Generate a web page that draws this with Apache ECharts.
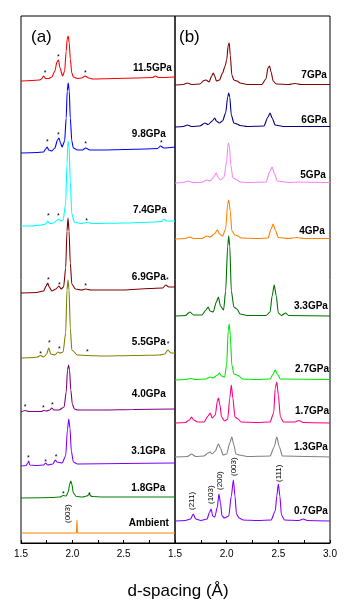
<!DOCTYPE html>
<html><head><meta charset="utf-8">
<script src="https://cdn.jsdelivr.net/npm/echarts/dist/echarts.min.js"></script>
<style>html,body{margin:0;padding:0;background:#fff}#c{width:357px;height:613px}</style>
</head><body><div id="c"></div>
<script>
// ---------- DATA: panel (a) ----------
const namesA = ['11.5GPa','9.8GPa','7.4GPa','6.9GPa','5.5GPa','4.0GPa','3.1GPa','1.8GPa','Ambient'];
const offsetsA = [462, 390, 317, 250, 185, 131, 77, 45, 10];
const specA_115 = [[1.50,0],[1.60,0.5],[1.68,1],[1.70,2],[1.72,5],[1.74,2.5],[1.77,2.5],[1.80,4],[1.83,10],[1.85,19],[1.865,21],[1.88,13],[1.905,5],[1.925,10],[1.94,30],[1.95,42],[1.96,45],[1.97,38],[1.98,22],[1.995,8],[2.01,4],[2.05,2.5],[2.09,3],[2.125,5],[2.16,3],[2.20,2],[2.40,2.5],[2.60,3],[2.78,3.5],[2.81,5],[2.84,3.5],[3.00,4]];
const specA_98 = [[1.50,0],[1.65,0.5],[1.72,1],[1.74,4],[1.755,6],[1.77,3],[1.80,2],[1.83,5],[1.855,13],[1.87,15],[1.885,10],[1.90,6],[1.925,12],[1.94,35],[1.95,62],[1.96,70],[1.97,62],[1.98,35],[1.995,12],[2.01,5],[2.05,3],[2.10,3],[2.13,5],[2.17,3],[2.30,3],[2.50,3.5],[2.70,4],[2.83,4.5],[2.86,7],[2.89,5],[3.00,6]];
const specA_74 = [[1.50,0],[1.60,0],[1.70,1],[1.74,2],[1.76,5],[1.78,2.5],[1.82,3],[1.855,6],[1.87,7],[1.885,5],[1.91,6],[1.935,22],[1.948,62],[1.958,85],[1.968,80],[1.98,45],[1.995,12],[2.02,4],[2.08,2.5],[2.14,3.5],[2.20,2.5],[2.50,3],[2.80,4],[2.87,4.5],[2.89,7],[2.92,5],[3.00,5]];
const specA_69 = [[1.50,0],[1.65,0.5],[1.72,2],[1.745,7],[1.76,10],[1.775,6],[1.80,2],[1.84,4],[1.87,7],[1.89,4],[1.915,6],[1.935,25],[1.948,62],[1.958,75],[1.968,62],[1.98,30],[1.995,9],[2.03,4],[2.09,3],[2.13,4],[2.18,3],[2.50,3],[2.75,4.5],[2.88,5],[2.91,8],[2.94,6],[3.00,6]];
const specA_55 = [[1.50,0],[1.62,0.5],[1.66,1],[1.69,2.5],[1.72,1],[1.75,4],[1.77,10],[1.79,4],[1.83,3],[1.86,6],[1.88,5],[1.91,6],[1.935,25],[1.948,68],[1.958,78],[1.968,68],[1.98,30],[1.995,8],[2.05,3],[2.145,2.5],[2.30,2],[2.60,2.5],[2.85,3],[2.90,4],[2.93,8],[2.96,5],[3.00,5]];
const specA_40 = [[1.50,0],[1.54,1.5],[1.58,0.5],[1.70,0.5],[1.72,1.5],[1.75,1],[1.78,2],[1.80,4],[1.82,2],[1.87,2],[1.92,5],[1.94,20],[1.953,42],[1.963,47],[1.973,42],[1.985,22],[2.00,8],[2.02,3],[2.05,2],[2.30,2],[2.60,2.5],[3.00,3]];
const specA_31 = [[1.50,0],[1.55,0.5],[1.565,3],[1.575,5],[1.585,1],[1.65,0.5],[1.72,1],[1.74,3],[1.76,1],[1.81,2],[1.835,6],[1.85,4],[1.90,3],[1.935,10],[1.952,36],[1.965,47],[1.977,38],[1.99,15],[2.01,4],[2.05,2],[2.50,2.5],[3.00,3]];
const specA_18 = [[1.50,0],[1.80,0.5],[1.88,1],[1.91,2.5],[1.94,2],[1.96,6],[1.975,14],[1.985,17],[1.995,14],[2.01,5],[2.04,1.5],[2.10,1],[2.14,2],[2.165,3.5],[2.19,1.5],[2.30,1],[3.00,1]];
const specA_amb = [[1.50,0],[2.04,0],[2.045,13],[2.05,0],[3.00,0]];
const specsA = [specA_115, specA_98, specA_74, specA_69, specA_55, specA_40, specA_31, specA_18, specA_amb];
// asterisk marks [d, height above baseline]
const starsA = [
  [[1.734,9],[1.863,25],[2.126,9]],
  [[1.756,12],[1.863,19],[2.13,10],[2.866,11]],
  [[1.766,11],[1.863,11],[2.14,6]],
  [[1.766,14],[1.873,9],[2.13,8],[2.925,14]],
  [[1.69,5],[1.776,16],[1.873,10],[2.146,7],[2.934,15]],
  [[1.539,6],[1.717,5],[1.805,8]],
  [[1.571,9],[1.74,5],[1.841,10]],
  [[1.912,5],[2.165,4]],
  []
];
const millerA = [['(003)', 1.96, 10, 8]];

// ---------- DATA: panel (b) ----------
const namesB = ['7GPa','6GPa','5GPa','4GPa','3.3GPa','2.7GPa','1.7GPa','1.3GPa','0.7GPa'];
const offsetsB = [458, 416, 360, 304, 227, 163, 120, 86, 22];
const specB_7 = [[1.50,0],[1.58,0.5],[1.62,2],[1.66,0.5],[1.74,1],[1.78,4.5],[1.80,5],[1.83,3],[1.855,9],[1.87,12],[1.885,9],[1.90,4],[1.93,5],[1.96,12],[1.985,19],[2.00,25],[2.015,40],[2.025,42],[2.035,30],[2.05,10],[2.07,5],[2.10,4],[2.13,2],[2.20,0.5],[2.34,0.5],[2.38,6],[2.40,17],[2.415,19],[2.43,13],[2.45,4],[2.48,1],[2.60,0.5],[2.66,1.5],[2.72,0.5],[3.00,0.5]];
const specB_6 = [[1.50,0],[1.58,0.5],[1.62,2],[1.66,0.5],[1.74,1],[1.79,4],[1.82,2.5],[1.86,6],[1.885,9],[1.90,6],[1.93,4],[1.96,6],[1.99,14],[2.01,30],[2.02,34],[2.03,30],[2.045,12],[2.07,4],[2.10,3],[2.13,1.5],[2.20,0.5],[2.36,1],[2.40,10],[2.42,14],[2.44,9],[2.47,2],[2.55,0.5],[3.00,0.5]];
const specB_5 = [[1.50,0],[1.58,0.5],[1.63,2],[1.67,0.5],[1.75,0.5],[1.81,3],[1.84,2],[1.875,6],[1.90,10],[1.915,6],[1.94,3],[1.975,6],[2.00,22],[2.015,40],[2.025,38],[2.04,18],[2.06,5],[2.10,3],[2.13,1],[2.20,0.5],[2.38,1],[2.42,12],[2.44,16],[2.46,10],[2.49,2],[2.60,0.5],[2.70,1],[3.00,0.5]];
const specB_4 = [[1.50,0],[1.60,0.5],[1.64,2],[1.68,0.5],[1.76,0.5],[1.81,3],[1.84,2],[1.88,5],[1.91,9],[1.93,5],[1.96,3],[1.99,10],[2.01,35],[2.02,39],[2.035,28],[2.05,8],[2.08,4],[2.11,3],[2.14,1],[2.30,0.5],[2.40,1],[2.43,10],[2.45,15],[2.47,9],[2.50,1.5],[2.60,0.5],[2.68,1.5],[2.75,0.5],[3.00,0.5]];
const specB_33 = [[1.50,0],[1.60,0.5],[1.645,4],[1.68,1],[1.76,1],[1.80,6],[1.82,9],[1.84,5],[1.87,4],[1.90,14],[1.92,19],[1.94,10],[1.97,6],[1.99,25],[2.01,70],[2.02,80],[2.03,70],[2.045,25],[2.07,9],[2.10,7],[2.13,2],[2.20,0.5],[2.38,0.5],[2.42,4],[2.44,20],[2.46,31],[2.48,20],[2.50,3],[2.53,0.5],[2.57,3],[2.60,0.5],[3.00,0]];
const specB_27 = [[1.50,0],[1.60,0.5],[1.65,1.5],[1.70,0.5],[1.80,1],[1.84,3],[1.87,2],[1.91,5],[1.93,7],[1.95,4],[1.98,3],[2.00,15],[2.015,50],[2.025,56],[2.035,45],[2.05,15],[2.07,6],[2.10,5],[2.12,4],[2.15,1],[2.30,0.5],[2.42,1],[2.45,6],[2.47,10],[2.49,6],[2.52,1],[3.00,0.5]];
const specB_17 = [[1.50,0],[1.60,0.5],[1.64,3],[1.66,6],[1.68,3],[1.72,1],[1.78,1],[1.82,7],[1.84,10],[1.86,5],[1.89,8],[1.91,22],[1.92,25],[1.935,18],[1.95,6],[1.98,2],[2.01,4],[2.03,25],[2.045,38],[2.06,25],[2.08,6],[2.11,4],[2.14,1],[2.30,0.5],[2.42,1],[2.455,10],[2.47,35],[2.485,41],[2.50,28],[2.52,6],[2.55,1],[2.66,1],[2.70,2.5],[2.74,0.5],[3.00,0]];
const specB_13 = [[1.50,0],[1.62,0.5],[1.66,3],[1.70,0.5],[1.78,1],[1.82,4],[1.84,5],[1.86,3],[1.89,6],[1.92,13],[1.94,9],[1.965,2],[2.00,3],[2.03,14],[2.05,20],[2.07,12],[2.09,3],[2.12,2],[2.20,0.5],[2.42,1],[2.46,10],[2.485,20],[2.51,10],[2.54,1],[3.00,0]];
const specB_07 = [[1.50,0],[1.60,0.5],[1.65,2],[1.677,7],[1.70,2],[1.75,0.5],[1.81,2],[1.835,9],[1.85,12],[1.865,5],[1.885,4],[1.91,14],[1.925,27],[1.94,18],[1.955,5],[1.98,3],[2.02,5],[2.045,25],[2.065,41],[2.08,25],[2.095,7],[2.12,3],[2.16,1],[2.30,0.5],[2.43,1],[2.47,10],[2.485,25],[2.50,37],[2.515,25],[2.53,6],[2.56,1],[2.70,0.5],[2.74,2],[2.78,0.5],[3.00,0]];
const specsB = [specB_7, specB_6, specB_5, specB_4, specB_33, specB_27, specB_17, specB_13, specB_07];
const millerB = [['(211)',1.665,11,8],['(103)',1.85,17,8],['(200)',1.93,31,8],['(003)',2.07,45,8],['(111)',2.505,39,8]];

const tickValues = [1.5, 2.0, 2.5, 3.0];

// ---------- STYLE / LAYOUT ----------
const colorsA = ['#ff0000','#0000ff','#00ffff','#800000','#808000','#800080','#8000ff','#008000','#ff8000'];
const colorsB = ['#800000','#000080','#ff80ff','#ff8000','#007000','#00e600','#ff0080','#808080','#8000ff'];
const labelPosA = [[2.97,12.5],[2.91,18.5],[2.92,16],[2.91,15.5],[2.91,15.5],[2.91,17.5],[2.905,14.5],[2.905,9.5],[2.94,9.5]];
const labelPosB = [[2.97,10],[2.97,7],[2.96,8],[2.95,8],[2.98,10],[2.99,10.5],[2.99,12],[2.98,9.5],[2.98,10]];
const FONT = '"Liberation Sans", Arial, Helvetica, sans-serif';

const chart = echarts.init(document.getElementById('c'));

function xAxisCfg(gi, showMax) {
  return {
    type: 'value', gridIndex: gi, min: 1.5, max: 3.0, interval: 0.25,
    axisLine: {show: true, onZero: false, lineStyle: {color: '#000', width: 1}},
    axisTick: {show: true, inside: true, length: 3, lineStyle: {color: '#000', width: 1}},
    axisLabel: {color: '#000', fontSize: 10, fontFamily: FONT, margin: 6, showMaxLabel: showMax, showMinLabel: true,
      formatter: v => tickValues.some(t => Math.abs(t - v) < 1e-6) ? v.toFixed(1) : ''},
    splitLine: {show: false}
  };
}
function yAxisCfg(gi) {
  return {type: 'value', gridIndex: gi, min: 0, max: 527, show: false, splitLine: {show: false}};
}
const series = [];
function addSeries(specs, offsets, colors, gi) {
  specs.forEach((pts, i) => {
    series.push({
      type: 'line', xAxisIndex: gi, yAxisIndex: gi,
      data: pts.map(p => [p[0], p[1] + offsets[i]]),
      showSymbol: false, symbol: 'none', smooth: 0.25, smoothMonotone: 'x',
      lineStyle: {color: colors[i], width: 1.1}, silent: true, animation: false
    });
  });
}
addSeries(specsA, offsetsA, colorsA, 0);
addSeries(specsB, offsetsB, colorsB, 1);

chart.setOption({
  animation: false,
  backgroundColor: '#fff',
  grid: [
    {left: 21, top: 16, width: 154, height: 527, show: true, borderColor: '#000', borderWidth: 1, backgroundColor: 'transparent'},
    {left: 175, top: 16, width: 155, height: 527, show: true, borderColor: '#000', borderWidth: 1, backgroundColor: 'transparent'}
  ],
  xAxis: [xAxisCfg(0, false), xAxisCfg(1, true)],
  yAxis: [yAxisCfg(0), yAxisCfg(1)],
  series: series
});

// ---------- annotations ----------
const g = [];
function px(gi, d, v) { return chart.convertToPixel({gridIndex: gi}, [d, v]); }
function txt(x, y, text, opts) {
  const o = Object.assign({size: 10, weight: 'normal', align: 'left', valign: 'middle', rot: 0}, opts || {});
  g.push({
    type: 'text', x: x, y: y, rotation: o.rot, silent: true, z: 100,
    style: {text: text, fill: '#000', font: o.weight + ' ' + o.size + 'px ' + FONT,
      align: o.align, verticalAlign: o.valign, textAlign: o.align, textVerticalAlign: o.valign}
  });
}
function annotate(gi, names, offsets, labelPos, stars, miller) {
  names.forEach((n, i) => {
    const p = px(gi, labelPos[i][0], offsets[i] + labelPos[i][1]);
    txt(p[0], p[1], n, {weight: 'bold', align: 'right'});
    (stars[i] || []).forEach(s => {
      const q = px(gi, s[0], offsets[i] + s[1]);
      txt(q[0], q[1] + 1.5, '*', {size: 7, align: 'center'});
    });
  });
  miller.forEach(m => {
    const p = px(gi, m[1], offsets[offsets.length - 1] + m[2]);
    txt(p[0], p[1], m[0], {size: m[3], align: 'left', rot: Math.PI / 2});
  });
}
annotate(0, namesA, offsetsA, labelPosA, starsA, millerA);
annotate(1, namesB, offsetsB, labelPosB, [], millerB);
txt(31, 37, '(a)', {size: 17});
txt(179, 37, '(b)', {size: 17});
txt(178, 591, 'd-spacing (Å)', {size: 17, align: 'center'});
chart.setOption({graphic: g});
</script>
</body></html>
